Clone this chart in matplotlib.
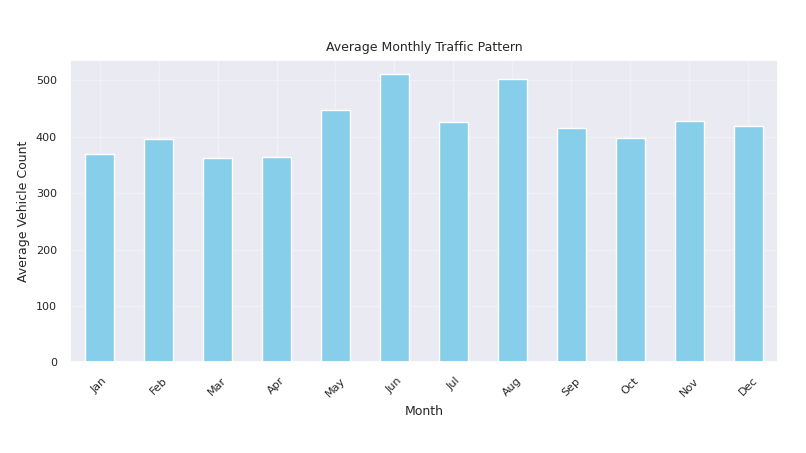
import matplotlib
matplotlib.use("Agg")
import matplotlib.pyplot as plt
import seaborn as sns

sns.set_theme(style="darkgrid")
months = ["Jan","Feb","Mar","Apr","May","Jun","Jul","Aug","Sep","Oct","Nov","Dec"]
values = [369, 396, 362, 364, 447, 511, 426, 502, 415, 398, 428, 419]

fig = plt.figure(figsize=(8.06, 4.53), dpi=100)
ax = fig.add_axes([0.087, 0.2, 0.878, 0.668])
ax.bar(range(len(months)), values, width=0.5, color="skyblue", edgecolor="white")
ax.set_xlim(-0.5, len(months) - 0.5)
ax.set_ylim(0, max(values) * 1.05)
ax.set_xticks(range(len(months)))
ax.set_xticklabels(months, rotation=45, fontsize=8)
ax.tick_params(axis="y", labelsize=8)
ax.grid(True, alpha=0.3)
ax.set_title("Average Monthly Traffic Pattern", fontsize=9)
ax.set_xlabel("Month", fontsize=9)
ax.set_ylabel("Average Vehicle Count", fontsize=9)
fig.savefig("out.png", dpi=100)
